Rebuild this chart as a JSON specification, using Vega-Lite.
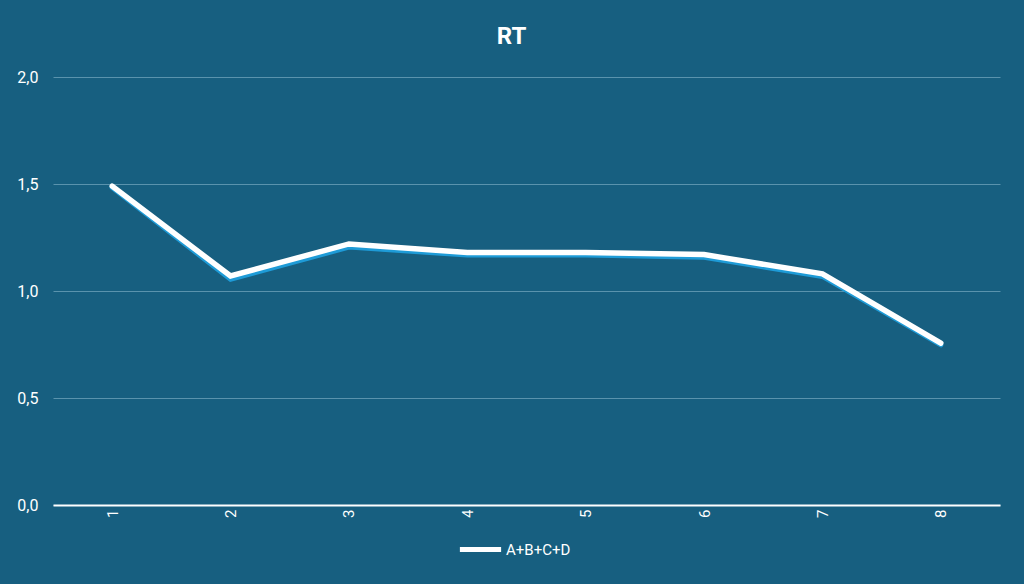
{
  "$schema": "https://vega.github.io/schema/vega-lite/v6.json",
  "width": 947,
  "height": 428,
  "autosize": "none",
  "padding": {"left": 53, "top": 77, "right": 24, "bottom": 79},
  "background": "#175f80",
  "title": {
    "text": "RT",
    "color": "#ffffff",
    "fontSize": 24,
    "fontWeight": "bold",
    "font": "Roboto",
    "anchor": "middle",
    "dx": -15,
    "offset": 20
  },
  "config": {
    "view": {"stroke": null},
    "font": "Roboto"
  },
  "data": {
    "values": [
      {"x": "1", "value": 1.483, "series": "Base"},
      {"x": "2", "value": 1.055, "series": "Base"},
      {"x": "3", "value": 1.205, "series": "Base"},
      {"x": "4", "value": 1.168, "series": "Base"},
      {"x": "5", "value": 1.168, "series": "Base"},
      {"x": "6", "value": 1.158, "series": "Base"},
      {"x": "7", "value": 1.068, "series": "Base"},
      {"x": "8", "value": 0.748, "series": "Base"},
      {"x": "1", "value": 1.49, "series": "A+B+C+D"},
      {"x": "2", "value": 1.07, "series": "A+B+C+D"},
      {"x": "3", "value": 1.22, "series": "A+B+C+D"},
      {"x": "4", "value": 1.18, "series": "A+B+C+D"},
      {"x": "5", "value": 1.18, "series": "A+B+C+D"},
      {"x": "6", "value": 1.17, "series": "A+B+C+D"},
      {"x": "7", "value": 1.08, "series": "A+B+C+D"},
      {"x": "8", "value": 0.757, "series": "A+B+C+D"}
    ]
  },
  "encoding": {
    "x": {
      "field": "x",
      "type": "ordinal",
      "scale": {"paddingInner": 0, "paddingOuter": 0},
      "axis": {
        "title": null,
        "labelAngle": -90,
        "labelColor": "#ffffff",
        "labelFontSize": 15,
        "labelPadding": 4,
        "ticks": false,
        "domainColor": "#ffffff",
        "domainWidth": 2
      }
    },
    "y": {
      "field": "value",
      "type": "quantitative",
      "scale": {"domain": [0, 2]},
      "axis": {
        "title": null,
        "values": [0, 0.5, 1, 1.5, 2],
        "labelExpr": "replace(format(datum.value, '.1f'), '.', ',')",
        "labelColor": "#ffffff",
        "labelFontSize": 16,
        "labelPadding": 15,
        "ticks": false,
        "domain": false,
        "gridColor": "#5a93ad",
        "gridWidth": 1
      }
    },
    "color": {
      "field": "series",
      "type": "nominal",
      "scale": {"domain": ["Base", "A+B+C+D"], "range": ["#1e9bd7", "#ffffff"]},
      "legend": {
        "title": null,
        "values": ["A+B+C+D"],
        "orient": "none",
        "legendX": 404,
        "legendY": 449,
        "direction": "horizontal",
        "symbolType": "stroke",
        "symbolSize": 1700,
        "symbolStrokeWidth": 5,
        "labelColor": "#ffffff",
        "labelFontSize": 15,
        "labelOffset": 2
      }
    }
  },
  "layer": [
    {
      "transform": [{"filter": "datum.series == 'Base'"}],
      "mark": {"type": "line", "strokeWidth": 5, "strokeCap": "round"}
    },
    {
      "transform": [{"filter": "datum.series == 'A+B+C+D'"}],
      "mark": {"type": "line", "strokeWidth": 5.5, "strokeCap": "round"}
    }
  ]
}
